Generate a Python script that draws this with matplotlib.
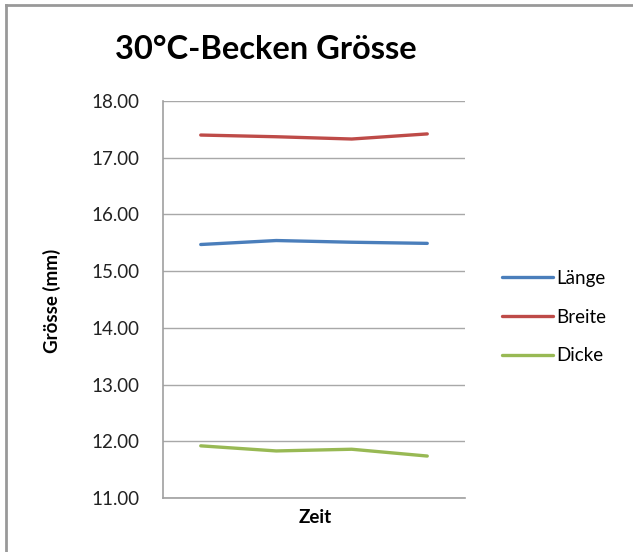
import matplotlib.pyplot as plt
from matplotlib.lines import Line2D

plt.rcParams['font.family'] = ['Lato', 'DejaVu Sans']

# four measurements over time
zeit = [0, 1, 2, 3]
laenge = [15.47, 15.54, 15.51, 15.49]
breite = [17.40, 17.37, 17.33, 17.42]
dicke = [11.92, 11.83, 11.86, 11.74]

series_names = ['Länge', 'Breite', 'Dicke']
yticks = [11, 12, 13, 14, 15, 16, 17, 18]

fig = plt.figure(figsize=(6.33, 5.52), dpi=100)
ax = fig.add_axes([0.2575, 0.0978, 0.4771, 0.7192])

ax.plot(zeit, laenge, color='#4A7EBB', lw=2.4, solid_capstyle='round', label=series_names[0])
ax.plot(zeit, breite, color='#BE4B48', lw=2.4, solid_capstyle='round', label=series_names[1])
ax.plot(zeit, dicke, color='#98B954', lw=2.4, solid_capstyle='round', label=series_names[2])

ax.set_xlim(-0.5, 3.5)
ax.set_ylim(11, 18)
ax.set_yticks(yticks)
ax.set_yticklabels(['%.2f' % v for v in yticks], fontsize=13.5, color='#222222')
ax.set_xticks([])
ax.tick_params(axis='y', length=0, pad=17)
ax.grid(axis='y', color='#A8A8A8', lw=1)
ax.set_axisbelow(True)

for s in ['top', 'right']:
    ax.spines[s].set_visible(False)
for s in ['left', 'bottom']:
    ax.spines[s].set_color('#A0A0A0')
    ax.spines[s].set_linewidth(1.2)

ax.set_xlabel('Zeit', fontsize=13.5, fontweight='bold', va='center')
ax.xaxis.set_label_coords(0.503, -0.05)
ax.set_ylabel('Grösse (mm)', fontsize=13.5, fontweight='bold', va='center')
ax.yaxis.set_label_coords(-0.3675, 0.496)

fig.text(0.42, 0.91, '30°C-Becken Grösse', fontsize=23.5, fontweight='bold',
         ha='center', va='center')

ax.legend(loc='center left', bbox_to_anchor=(0.793, 0.4257), bbox_transform=fig.transFigure,
          frameon=False, fontsize=13.5, handlelength=2.7, handletextpad=0.2,
          labelspacing=1.15, borderaxespad=0, borderpad=0)

# outer chart border (top and left edges visible)
fig.add_artist(Line2D([6/633, 1], [1 - 5/552, 1 - 5/552], transform=fig.transFigure,
                      color='#999999', lw=2))
fig.add_artist(Line2D([6/633, 6/633], [0, 1 - 5/552], transform=fig.transFigure,
                      color='#999999', lw=2))

fig.savefig('out.png', dpi=100)
